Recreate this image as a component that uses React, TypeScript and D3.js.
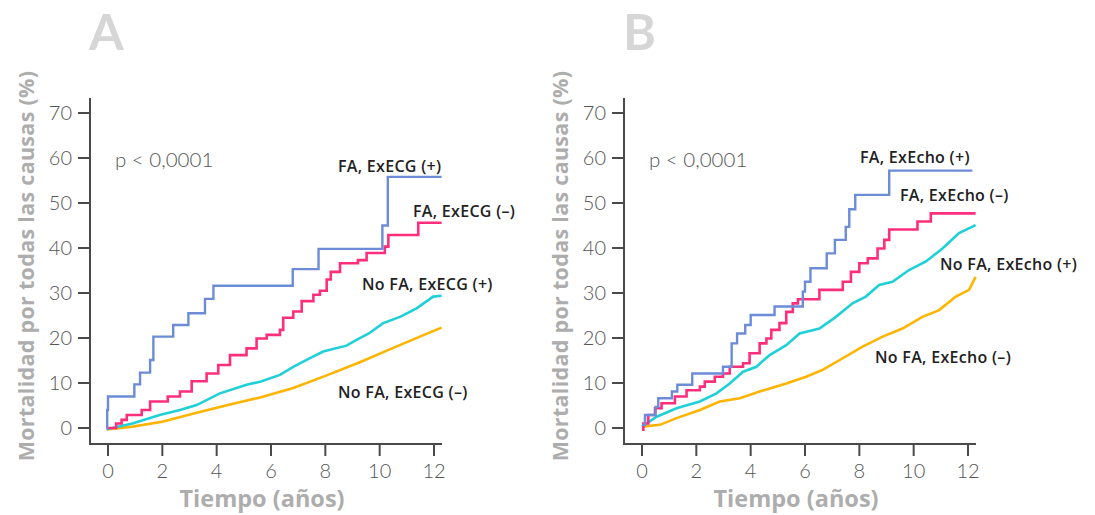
import React from "react";
import * as d3 from "d3";

type Pt = [number, number];

// x ticks / y ticks
const xTicks = [0, 2, 4, 6, 8, 10, 12];
const yTicks = [0, 10, 20, 30, 40, 50, 60, 70];

// Panel A — ExECG
const aFaPos: Pt[] = [[-0.05,0],[-0.03,4],[0,7],[0.97,9.7],[1.18,12.3],[1.55,15.1],[1.67,20.3],[2.4,22.9],[2.96,25.5],[3.57,28.7],[3.88,31.6],[6.8,35.3],[7.75,39.8],[10.1,45],[10.3,55.8],[12.28,55.8]];
const aFaNeg: Pt[] = [[-0.05,0],[0.3,1],[0.5,1.8],[0.69,2.9],[1.24,4],[1.55,5.9],[2.2,7],[2.65,8.1],[3.08,10.4],[3.63,12.1],[4.06,14],[4.49,16.2],[5.1,17.7],[5.47,19.9],[5.84,20.7],[6.33,21.8],[6.45,24.5],[6.82,25.9],[7.13,28.2],[7.56,29.6],[7.8,30.5],[8.05,33],[8.2,34.7],[8.54,36.6],[9.2,37.3],[9.52,38.9],[10.19,40.3],[10.32,42.9],[11.42,45.6],[12.28,45.6]];
const aNoFaPos: Pt[] = [[-0.05,-0.3],[0.9,1],[1.9,2.9],[2.65,4],[3.26,5.1],[4.12,7.7],[5.1,9.6],[5.6,10.3],[6.33,11.8],[6.82,13.6],[7.4,15.4],[7.92,17],[8.78,18.3],[9.15,19.6],[9.6,21],[10.13,23.3],[10.75,24.7],[11.36,26.6],[11.97,29.2],[12.28,29.4]];
const aNoFaNeg: Pt[] = [[-0.05,-0.3],[0.9,0.3],[2,1.4],[3.26,3.4],[4.49,5.2],[5.6,6.8],[6.82,8.9],[8.05,11.7],[9.27,14.6],[10.5,17.8],[11.48,20.3],[12.28,22.3]];

// Panel B — ExEcho
const bFaPos: Pt[] = [[0,0.7],[0.11,2.9],[0.5,4.7],[0.6,6.6],[1.1,8.1],[1.3,9.6],[1.85,12.1],[2.98,13.6],[3.3,18.8],[3.5,21],[3.8,22.9],[4.0,25.1],[4.88,27],[5.92,30.3],[6.0,32.5],[6.2,35.5],[6.8,38.8],[7.1,41.8],[7.5,44.7],[7.63,48.6],[7.85,51.8],[9.1,57.2],[12.16,57.2]];
const bFaNeg: Pt[] = [[0,-0.4],[0.05,1],[0.23,2.9],[0.48,4.4],[0.72,5.5],[1.21,7],[1.64,8.4],[2.13,9.2],[2.31,10.3],[2.68,11.4],[2.98,12.1],[3.23,13.6],[3.72,14.4],[3.96,16.6],[4.33,18.8],[4.58,19.9],[4.76,21.8],[5.06,23.3],[5.31,25.8],[5.55,27.7],[5.74,28.6],[6.53,30.7],[7.39,32.5],[7.69,34.7],[8,36.6],[8.31,37.7],[8.67,39.9],[8.92,41.8],[9.1,44.1],[10.14,45.9],[10.63,47.7],[12.28,47.7]];
const bNoFaPos: Pt[] = [[0,0.3],[0.54,2.5],[1.27,4.4],[2.13,5.9],[2.74,7.7],[3.23,9.9],[3.72,12.5],[4.21,13.6],[4.7,16.2],[5.31,18.4],[5.8,21],[6.53,22.1],[7.14,24.7],[7.75,27.7],[8.24,29.2],[8.73,31.8],[9.22,32.5],[9.83,35.1],[10.45,37],[11.06,39.9],[11.67,43.3],[12.28,45.1]];
const bNoFaNeg: Pt[] = [[0,0.3],[0.66,0.7],[1.27,2.2],[2.13,4],[2.86,5.9],[3.6,6.6],[4.33,8.1],[5.31,9.9],[6.04,11.4],[6.65,12.9],[7.39,15.5],[8.12,18.1],[8.86,20.3],[9.59,22.1],[10.32,24.7],[10.94,26.2],[11.55,29.2],[12.04,30.7],[12.28,33.6]];

const aLabels = ["FA, ExECG (+)", "FA, ExECG (–)", "No FA, ExECG (+)", "No FA, ExECG (–)"];
const bLabels = ["FA, ExEcho (+)", "FA, ExEcho (–)", "No FA, ExEcho (+)", "No FA, ExEcho (–)"];

const COLORS = { blue: "#6c8cd8", pink: "#ff2e7d", cyan: "#20d0d8", orange: "#ffb400" };
const THIN = "Lato, 'Open Sans', sans-serif";
const WIDE = "'Open Sans', Lato, sans-serif";

type PanelProps = {
  ox: number;
  letter: string;
  faPos: Pt[];
  faNeg: Pt[];
  noFaPos: Pt[];
  noFaNeg: Pt[];
  labels: string[];
  labelPos: [number, number][];
};

function Panel({ ox, letter, faPos, faNeg, noFaPos, noFaNeg, labels, labelPos }: PanelProps) {
  const x = d3.scaleLinear().domain([0, 12]).range([108, 434]);
  const y = d3.scaleLinear().domain([0, 70]).range([428, 113]);
  const step = d3.line<Pt>().x(d => x(d[0])).y(d => y(d[1])).curve(d3.curveStepAfter);
  const lin = d3.line<Pt>().x(d => x(d[0])).y(d => y(d[1])).curve(d3.curveLinear);
  const axisColor = "#4a4a4a";
  const axisY = 444;
  const axisX = 90;
  return (
    <g transform={`translate(${ox},0)`}>
      <text x={89} y={50} fontFamily={THIN} fontWeight={700} fontSize={50} fill="#d6d6d6">{letter}</text>
      {/* axes */}
      <line x1={axisX} x2={axisX} y1={98} y2={axisY + 1} stroke={axisColor} strokeWidth={2} />
      <line x1={axisX - 1} x2={442} y1={axisY} y2={axisY} stroke={axisColor} strokeWidth={2} />
      {yTicks.map(t => (
        <g key={"y" + t}>
          <line x1={78} x2={axisX} y1={y(t)} y2={y(t)} stroke={axisColor} strokeWidth={2} />
          <text x={72} y={y(t) + 7} textAnchor="end" fontFamily={THIN} fontWeight={300} fontSize={20} fill="#555">{t}</text>
        </g>
      ))}
      {xTicks.map(t => (
        <g key={"x" + t}>
          <line x1={x(t)} x2={x(t)} y1={axisY} y2={456} stroke={axisColor} strokeWidth={2} />
          <text x={x(t)} y={478} textAnchor="middle" fontFamily={THIN} fontWeight={300} fontSize={20} fill="#555">{t}</text>
        </g>
      ))}
      <text x={262} y={507} textAnchor="middle" fontFamily={WIDE} fontWeight={700} fontSize={23.5} fill="#adadad">Tiempo (años)</text>
      <text transform={`translate(34,266) rotate(-90)`} textAnchor="middle" fontFamily={WIDE} fontWeight={700} fontSize={21.5} letterSpacing={0.3} fill="#adadad">Mortalidad por todas las causas (%)</text>
      <text x={115} y={167} fontFamily={THIN} fontWeight={300} fontSize={20.5} fill="#555">p &lt; 0,0001</text>
      {/* curves */}
      <path d={lin(noFaNeg) || ""} fill="none" stroke={COLORS.orange} strokeWidth={2.6} />
      <path d={lin(noFaPos) || ""} fill="none" stroke={COLORS.cyan} strokeWidth={2.6} />
      <path d={step(faNeg) || ""} fill="none" stroke={COLORS.pink} strokeWidth={2.6} />
      <path d={step(faPos) || ""} fill="none" stroke={COLORS.blue} strokeWidth={2.4} />
      {labels.map((l, i) => (
        <text key={l} x={labelPos[i][0]} y={labelPos[i][1]} fontFamily={WIDE} fontWeight={600} fontSize={16} letterSpacing={0.3} fill="#222">{l}</text>
      ))}
    </g>
  );
}

export default function App() {
  return (
    <svg width={1095} height={515} style={{ position: "absolute", left: 0, top: 0, background: "#fff" }}>
      <Panel ox={0} letter="A" faPos={aFaPos} faNeg={aFaNeg} noFaPos={aNoFaPos} noFaNeg={aNoFaNeg}
        labels={aLabels} labelPos={[[338, 172], [413, 217], [362, 290], [338, 398]]} />
      <Panel ox={534} letter="B" faPos={bFaPos} faNeg={bFaNeg} noFaPos={bNoFaPos} noFaNeg={bNoFaNeg}
        labels={bLabels} labelPos={[[326, 163], [366, 201], [406, 270], [341, 363]]} />
    </svg>
  );
}
